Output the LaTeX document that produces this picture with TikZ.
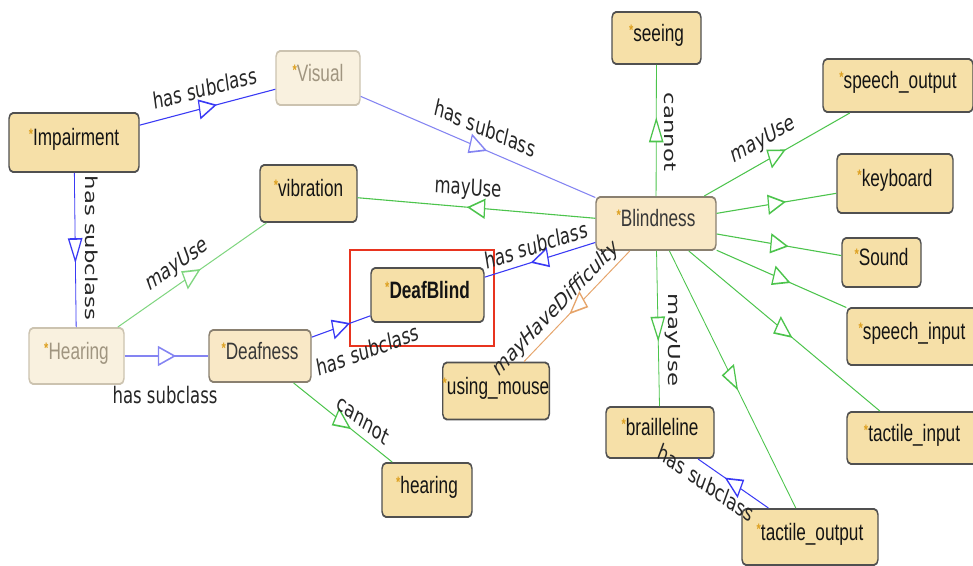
\documentclass[tikz,border=0pt]{standalone}
\usepackage{fontspec}
\setmainfont{Liberation Sans}
\newfontfamily\lblfont{DejaVu Sans}
\usetikzlibrary{decorations.markings}
\definecolor{nfill}{HTML}{F6E0A8}
\definecolor{nborder}{HTML}{505050}
\definecolor{mfill}{HTML}{F9E8C6}
\definecolor{mborder}{HTML}{8A8070}
\definecolor{ffill}{HTML}{F9F1DF}
\definecolor{fborder}{HTML}{CCC3B0}
\definecolor{ftext}{HTML}{A09580}
\definecolor{starc}{HTML}{DDA020}
\definecolor{subc}{HTML}{3A3AF5}
\definecolor{subl}{HTML}{8484F2}
\definecolor{usec}{HTML}{4CC44C}
\definecolor{usel}{HTML}{80D680}
\definecolor{diffc}{HTML}{E6A46A}
\definecolor{lblc}{HTML}{262626}
\definecolor{redbox}{HTML}{E8341F}
\newcommand\clsstar{{\color{starc}\raisebox{4.6pt}{\fontsize{11}{11}\selectfont\bfseries *}}}
\tikzset{
  cls/.style={draw=nborder, fill=nfill, rounded corners=4pt, line width=1.4pt,
    font=\fontsize{17.2}{20}\selectfont, text=black!92, inner sep=0pt,
    text height=0.75em, text depth=0.25em},
  clsmid/.style={cls, draw=mborder, fill=mfill, text=black!78},
  clsfaint/.style={cls, draw=fborder, fill=ffill, text=ftext},
  sz/.style 2 args={minimum width=#1pt, minimum height=#2pt/1.38},
  rel/.style={line width=0.8pt, postaction={decorate},
    decoration={markings, mark=at position 0.5 with {\draw[line width=1.2pt, fill=white, sharp corners] (8pt,0pt) -- (-8pt,6.5pt) -- (-8pt,-6.5pt) -- cycle;}}},
  lbl/.style={font=\lblfont\fontsize{16.5}{19}\selectfont, text=lblc, inner sep=0pt},
}
\begin{document}
\begin{tikzpicture}[x=1pt, y=-0.724638pt]
\useasboundingbox[fill=white] (0pt,0pt) rectangle (973pt,-565pt);
\begin{scope}[transform canvas={yscale=1.38}]
% nodes
\node[cls, sz={130}{59}] (imp) at (74,142.5) {\clsstar Impairment};
\node[clsfaint, sz={84}{54}] (vis) at (318,78) {\clsstar Visual};
\node[cls, sz={97}{57}] (vib) at (308.5,193.5) {\clsstar vibration};
\node[clsfaint, sz={95}{56}] (hear) at (76.5,356) {\clsstar Hearing};
\node[clsmid, sz={102}{52}] (deaf) at (260,356) {\clsstar Deafness};
\node[cls, sz={113}{54}, font=\fontsize{17.2}{20}\selectfont\bfseries] (db) at (427.5,295) {\clsstar DeafBlind};
\node[cls, sz={90}{54}] (hearingn) at (427,490) {\clsstar hearing};
\node[cls, sz={106}{57}] (mouse) at (496,391) {\clsstar using\_mouse};
\node[clsmid, sz={120}{53}] (blind) at (656,223.5) {\clsstar Blindness};
\node[cls, sz={89}{52}] (see) at (656.5,38) {\clsstar seeing};
\node[cls, sz={150}{53}] (sout) at (898,85.5) {\clsstar speech\_output};
\node[cls, sz={116}{59}] (kbd) at (895,183.5) {\clsstar keyboard};
\node[cls, sz={79}{49}] (snd) at (881.5,262.5) {\clsstar Sound};
\node[cls, sz={130}{57}] (sin) at (912,336.5) {\clsstar speech\_input};
\node[cls, sz={130}{52}] (tin) at (912,438) {\clsstar tactile\_input};
\node[cls, sz={108}{51}] (brl) at (660,432.5) {\clsstar brailleline};
\node[cls, sz={136}{56}] (tout) at (810,537) {\clsstar tactile\_output};
% red highlight box
\draw[redbox, line width=1.4pt] (350,250) rectangle (494,346);
% connectors
\draw[rel, subc] (imp) -- (vis);
\draw[rel, subc] (imp) -- (hear);
\draw[rel, subl] (vis) -- (blind);
\draw[rel, usec] (blind) -- (vib);
\draw[rel, subc] (blind) -- (db);
\draw[rel, diffc] (blind) -- (mouse);
\draw[rel, usec] (blind) -- (see);
\draw[rel, usec] (blind) -- (sout);
\draw[rel, usec] (blind) -- (kbd);
\draw[rel, usec] (blind) -- (snd);
\draw[rel, usec] (blind) -- (sin);
\draw[rel, usec] (blind) -- (tin);
\draw[rel, usec] (blind) -- (tout);
\draw[rel, usec] (blind) -- (brl);
\draw[rel, subc] (tout) -- (brl);
\draw[rel, subl] (hear) -- (deaf);
\draw[rel, usel] (hear) -- (vib);
\draw[rel, subc] (deaf) -- (db);
\draw[rel, usec] (deaf) -- (hearingn);
% labels
\node[lbl, rotate=10.8] (la) at (205,88) {has subclass};
\node[lbl, rotate=-90] (lb) at (92,248) {has subclass};
\node[lbl, rotate=-17.3] (lc) at (485,128) {has subclass};
\node[lbl, rotate=-3.6] (ld) at (468,189) {mayUse};
\node[lbl, rotate=12.8] (le) at (536,245) {has subclass};
\node[lbl, rotate=37.2] (lf) at (556,309) {mayHaveDifficulty};
\node[lbl, rotate=-90] (lg) at (670,132) {cannot};
\node[lbl, rotate=22.5] (lh) at (763,140) {mayUse};
\node[lbl, rotate=-90] (li) at (673,340) {mayUse};
\node[lbl, rotate=-26.8] (lj) at (706,483) {has subclass};
\node[lbl] (lk) at (165,395) {has subclass};
\node[lbl, rotate=26.9] (ll) at (177,265) {mayUse};
\node[lbl, rotate=14.8] (lm) at (368,350) {has subclass};
\node[lbl, rotate=-30.2] (ln) at (363,420) {cannot};
\end{scope}
\end{tikzpicture}
\end{document}
